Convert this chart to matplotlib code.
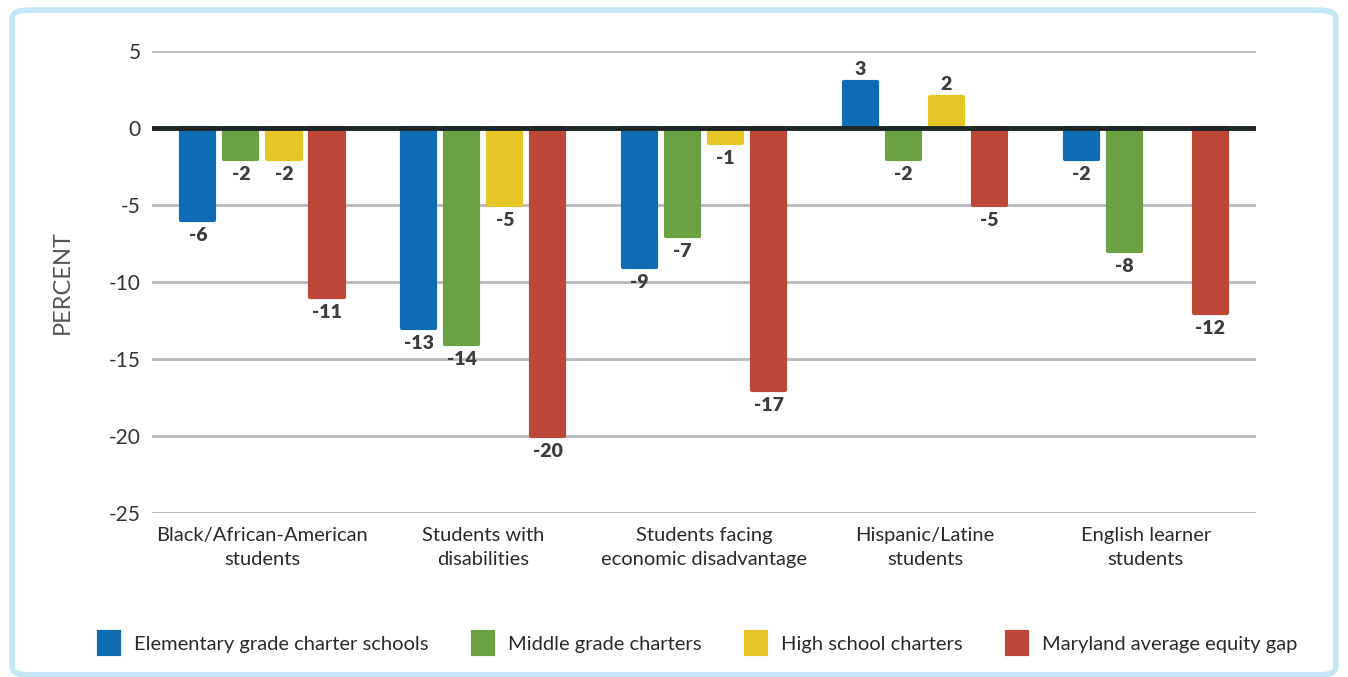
import numpy as np
import matplotlib
matplotlib.use('Agg')
import matplotlib.pyplot as plt
from matplotlib.patches import FancyBboxPatch

plt.rcParams['font.family'] = ['Lato', 'DejaVu Sans']
plt.rcParams['axes.unicode_minus'] = False

groups = ['Black/African-American\nstudents', 'Students with\ndisabilities',
          'Students facing\neconomic disadvantage', 'Hispanic/Latine\nstudents',
          'English learner\nstudents']
series = ['Elementary grade charter schools', 'Middle grade charters',
          'High school charters', 'Maryland average equity gap']
elementary = [-6, -13, -9, 3, -2]
middle = [-2, -14, -7, -2, -8]
high_school = [-2, -5, -1, 2, np.nan]
maryland = [-11, -20, -17, -5, -12]
colors = ['#0d6cb3', '#6aa243', '#e6c627', '#be4837']

fig = plt.figure(figsize=(13.48, 6.77), dpi=100)
ax = fig.add_axes([0.1128, 0.2422, 0.819, 0.6825])

# light blue rounded frame around the whole chart
frame = FancyBboxPatch((0.009, 0.003), 0.982, 0.982,
                       boxstyle='round,pad=0,rounding_size=0.012',
                       transform=fig.transFigure, facecolor='none',
                       edgecolor='#c4e6f7', linewidth=4, zorder=0)
fig.patches.append(frame)

x = np.arange(len(groups))
step = 0.195
width = 0.150
all_vals = [elementary, middle, high_school, maryland]
for i, (vals, name, col) in enumerate(zip(all_vals, series, colors)):
    pos = x + (i - 1.5) * step
    ax.bar(pos, vals, width, color=col, edgecolor=col, linewidth=3,
           joinstyle='round', label=name, zorder=2)
    for p, v in zip(pos, vals):
        if np.isnan(v):
            continue
        off, va = (-5, 'top') if v < 0 else (3, 'bottom')
        ax.annotate(f'{v:g}', (p, v), xytext=(0, off), textcoords='offset points',
                    ha='center', va=va, fontsize=14, fontweight='heavy',
                    color='#3d3d3d')

ax.set_xlim(-0.5, 4.5)
ax.set_ylim(-25, 5)
ax.set_yticks(np.arange(-25, 6, 5))
ax.yaxis.grid(True, color='#b9b9bd', linewidth=2, zorder=0)
ax.set_axisbelow(True)
ax.axhline(0, color='#1c2626', linewidth=3.5, zorder=3, solid_capstyle='round')

ax.set_xticks(x)
ax.set_xticklabels(groups, fontsize=14.5, color='#2b2b2b', linespacing=1.5)
ax.tick_params(axis='y', labelsize=15, colors='#333333', length=0, pad=8)
ax.tick_params(axis='x', length=0, pad=10)
for s in ax.spines.values():
    s.set_visible(False)
ax.set_ylabel('PERCENT', fontsize=17, color='#555555', labelpad=26)

fig.legend(loc='center', bbox_to_anchor=(0.518, 0.05), ncol=4, frameon=False,
           fontsize=14.5, handlelength=1.0, handleheight=1.3, handletextpad=0.75,
           columnspacing=2.2, labelcolor='#2b2b2b')

fig.savefig('out.png', dpi=100, facecolor='white')
